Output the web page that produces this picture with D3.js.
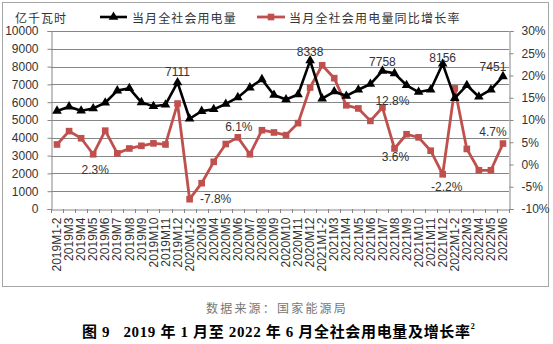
<!DOCTYPE html>
<html><head><meta charset="utf-8">
<script src="https://cdn.jsdelivr.net/npm/d3@7"></script>
<style>
html,body{margin:0;padding:0;background:#fff;}
svg{display:block;}
text{font-family:"Liberation Sans",Arial,sans-serif;}
.cjk{font-family:"Noto Sans CJK SC",sans-serif;}
.cap{font-family:"Liberation Serif","Noto Sans CJK SC",serif;}
</style></head>
<body>
<svg id="chart" width="553" height="344"></svg>
<script>
const categories = ["2019M1-2","2019M3","2019M4","2019M5","2019M6","2019M7","2019M8","2019M9","2019M10","2019M11","2019M12",
"2020M1-2","2020M3","2020M4","2020M5","2020M6","2020M7","2020M8","2020M9","2020M10","2020M11","2020M12",
"2021M1-2","2021M3","2021M4","2021M5","2021M6","2021M7","2021M8","2021M9","2021M10","2021M11","2021M12",
"2022M1-2","2022M3","2022M4","2022M5","2022M6"];
const consumption = [5510,5750,5520,5650,5970,6650,6780,5990,5770,5860,7111,
5070,5500,5600,5900,6270,6820,7280,6400,6150,6430,
8338,6200,6600,6350,6700,7020,7758,7620,6950,6570,6700,
8156,6230,6950,6310,6700,7451];
const growth = [4.5,7.5,5.9,2.3,7.6,2.5,3.6,4.2,4.75,4.5,13.7,
-7.8,-4.2,0.6,4.6,6.1,2.3,7.7,7.2,6.6,9.3,
17.3,22.3,19.4,13.3,12.6,9.8,12.8,3.6,6.8,6.1,3.1,
-2.2,17.1,3.5,-1.3,-1.3,4.7];
const leftTicks = [0,1000,2000,3000,4000,5000,6000,7000,8000,9000,10000];
const rightTicks = [-10,-5,0,5,10,15,20,25,30];
const seriesNames = ["当月全社会用电量","当月全社会用电量同比增长率"];
const unitLabel = "亿千瓦时";
const sourceText = "数据来源：国家能源局";
const captionText = "图 9\u00a0\u00a0\u00a02019 年 1 月至 2022 年 6 月全社会用电量及增长率";
const consLabels = [10,21,27,32,37];
const growthLabels = [3,11,15,27,28,32,37];

// layout (positions kept separate from data)
const consLabelOffset = {10:[0,-10],21:[0,-9],27:[0,-9],32:[0,-6],37:[-10,-9]};
const growthLabelOffset = {3:[2,16],11:[26,0],15:[1,-10],27:[10,-7],28:[1,9],32:[4,13],37:[-10,-12]};

const svg = d3.select("#chart");
const L = 51, R = 509, T = 31, B = 209;
const x = d3.scaleBand().domain(categories).range([L, R]);
const yL = d3.scaleLinear().domain([0,10000]).range([B, T]);
const yR = d3.scaleLinear().domain([-10,30]).range([B, T]);
const cx = c => x(c) + x.bandwidth()/2;
const axisColor = "#868686", textColor = "#333";
const black = "#000", red = "#C0504D";

svg.append("rect").attr("x",2.5).attr("y",2.5).attr("width",546).attr("height",284)
  .attr("fill","none").attr("stroke","#a6a6a6").attr("stroke-width",1);

svg.append("g").selectAll("line").data(leftTicks.filter(d=>d>0)).join("line")
  .attr("x1",L).attr("x2",R).attr("y1",d=>Math.round(yL(d))+0.5).attr("y2",d=>Math.round(yL(d))+0.5)
  .attr("stroke",axisColor).attr("stroke-width",1);

const gL = svg.append("g").attr("transform",`translate(${L+0.5},0)`)
  .call(d3.axisLeft(yL).tickValues(leftTicks).tickSize(4).tickPadding(9).tickFormat(d3.format("d")));
gL.selectAll("path,line").attr("stroke",axisColor);
gL.selectAll("text").attr("font-size",12).attr("fill",textColor);

const gR = svg.append("g").attr("transform",`translate(${R+0.5},0)`)
  .call(d3.axisRight(yR).tickValues(rightTicks).tickSize(4).tickPadding(8).tickFormat(d=>d+"%"));
gR.selectAll("path,line").attr("stroke",axisColor);
gR.selectAll("text").attr("font-size",12).attr("fill",textColor);

const gB = svg.append("g").attr("transform",`translate(0,${B+0.5})`)
  .call(d3.axisBottom(x).tickSize(0).tickPadding(0));
gB.select("path").attr("stroke",axisColor);
gB.selectAll(".tick text").attr("font-size",12).attr("fill",textColor)
  .attr("text-anchor","end").attr("dy","0.35em")
  .attr("transform","translate(0,8) rotate(-90)").attr("x",0).attr("y",0);
const bounds = categories.map(c=>x(c)).concat([R]);
svg.append("g").selectAll("line").data(bounds).join("line")
  .attr("x1",d=>Math.round(d)+0.5).attr("x2",d=>Math.round(d)+0.5)
  .attr("y1",B).attr("y2",B+4).attr("stroke",axisColor);

const lineC = d3.line().x((d,i)=>cx(categories[i])).y(d=>yL(d));
const lineG = d3.line().x((d,i)=>cx(categories[i])).y(d=>yR(d));
svg.append("path").datum(growth).attr("d",lineG).attr("fill","none")
  .attr("stroke",red).attr("stroke-width",2.8).attr("stroke-linejoin","round");
svg.append("g").selectAll("path").data(growth).join("path")
  .attr("d",d3.symbol(d3.symbolSquare,44)())
  .attr("transform",(d,i)=>`translate(${cx(categories[i])},${yR(d)})`).attr("fill",red);

svg.append("path").datum(consumption).attr("d",lineC).attr("fill","none")
  .attr("stroke",black).attr("stroke-width",2.6).attr("stroke-linejoin","round");
svg.append("g").selectAll("path").data(consumption).join("path")
  .attr("d",d3.symbol(d3.symbolTriangle,40)())
  .attr("transform",(d,i)=>`translate(${cx(categories[i])},${yL(d)})`).attr("fill",black);

svg.append("g").selectAll("text").data(consLabels).join("text")
  .attr("x",i=>cx(categories[i])+consLabelOffset[i][0])
  .attr("y",i=>yL(consumption[i])+consLabelOffset[i][1])
  .attr("text-anchor","middle").attr("dominant-baseline","central")
  .attr("font-size",12).attr("fill",textColor).text(i=>consumption[i]);
svg.append("g").selectAll("text").data(growthLabels).join("text")
  .attr("x",i=>cx(categories[i])+growthLabelOffset[i][0])
  .attr("y",i=>yR(growth[i])+growthLabelOffset[i][1])
  .attr("text-anchor","middle").attr("dominant-baseline","central")
  .attr("font-size",12).attr("fill",textColor).text(i=>growth[i].toFixed(1)+"%");

svg.append("text").attr("class","cjk").attr("x",15).attr("y",17).attr("dominant-baseline","central")
  .attr("font-size",12).attr("letter-spacing",1).attr("fill",textColor).text(unitLabel);
const lg = svg.append("g");
lg.append("line").attr("x1",100).attr("x2",127).attr("y1",17).attr("y2",17).attr("stroke",black).attr("stroke-width",2.6);
lg.append("path").attr("d",d3.symbol(d3.symbolTriangle,40)()).attr("transform","translate(113.5,17)").attr("fill",black);
lg.append("text").attr("class","cjk").attr("x",132).attr("y",17).attr("dominant-baseline","central")
  .attr("font-size",12).attr("letter-spacing",1.1).attr("fill",textColor).text(seriesNames[0]);
lg.append("line").attr("x1",257).attr("x2",285).attr("y1",17).attr("y2",17).attr("stroke",red).attr("stroke-width",2.8);
lg.append("path").attr("d",d3.symbol(d3.symbolSquare,44)()).attr("transform","translate(271,17)").attr("fill",red);
lg.append("text").attr("class","cjk").attr("x",289).attr("y",17).attr("dominant-baseline","central")
  .attr("font-size",12).attr("letter-spacing",1.2).attr("fill",textColor).text(seriesNames[1]);

svg.append("text").attr("class","cjk").attr("x",277).attr("y",307).attr("text-anchor","middle")
  .attr("dominant-baseline","central").attr("font-size",12).attr("letter-spacing",2.2).attr("fill","#777")
  .text(sourceText);
const cap = svg.append("text").attr("class","cap").attr("x",82).attr("y",332).attr("dominant-baseline","central")
  .attr("font-size",15).attr("font-weight","bold").attr("fill","#000");
cap.append("tspan").attr("textLength",388).attr("lengthAdjust","spacing").text(captionText);
cap.append("tspan").attr("font-size",8).attr("dy",-6).text("2");
</script>
</body></html>
